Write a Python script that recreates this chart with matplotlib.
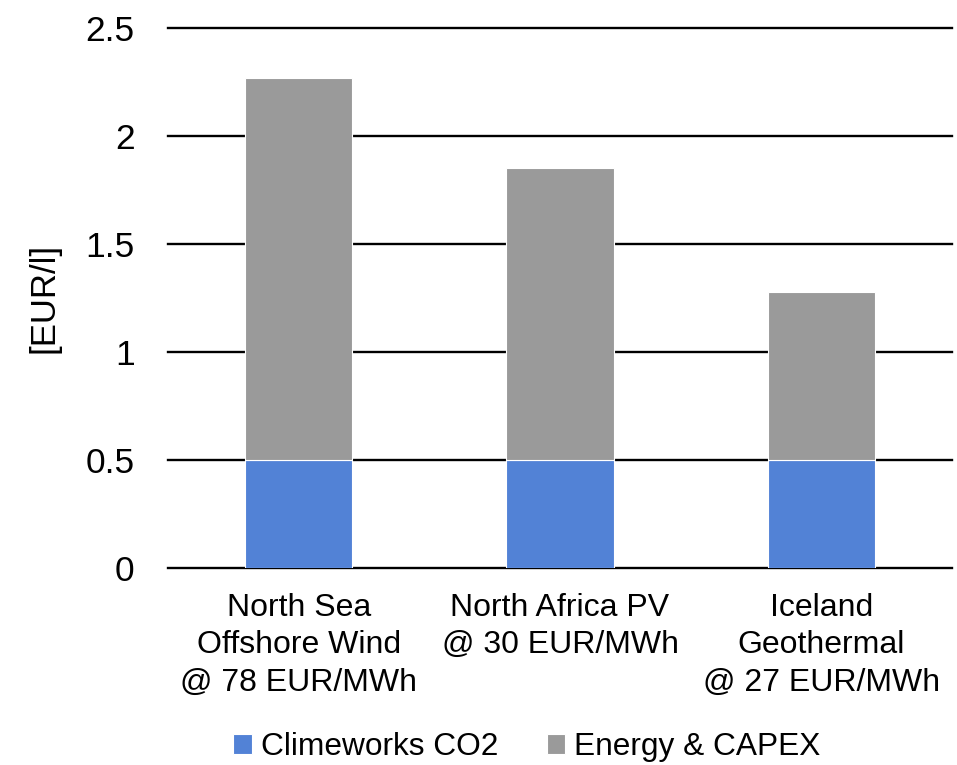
import matplotlib
matplotlib.use("Agg")
import matplotlib.pyplot as plt
import numpy as np

plt.rcParams['font.family'] = ['Liberation Sans', 'DejaVu Sans']

categories = ["North Sea\nOffshore Wind\n@ 78 EUR/MWh",
              "North Africa PV\n@ 30 EUR/MWh",
              "Iceland\nGeothermal\n@ 27 EUR/MWh"]
co2_cost = [0.5, 0.5, 0.5]
energy_capex = [1.77, 1.35, 0.78]
series_names = ["Climeworks CO2", "Energy & CAPEX"]
yticks = [0, 0.5, 1, 1.5, 2, 2.5]

blue = "#5282d6"
grey = "#9a9a9a"

fig = plt.figure(figsize=(9.57, 7.65), dpi=100)
ax = fig.add_axes([168 / 957, 1 - 568 / 765, 784 / 957, 540 / 765])

x = np.arange(len(categories))
width = 0.41
ax.bar(x, co2_cost, width, color=blue, edgecolor="white", linewidth=0.8,
       label=series_names[0], zorder=3)
ax.bar(x, energy_capex, width, bottom=co2_cost, color=grey, edgecolor="white",
       linewidth=0.8, label=series_names[1], zorder=3)

ax.set_xlim(-0.5, len(categories) - 0.5)
ax.set_ylim(0, 2.5)
ax.set_yticks(yticks)
ax.set_yticklabels([f"{v:g}" for v in yticks], fontsize=25.5)
ax.set_xticks(x)
ax.set_xticklabels(categories, fontsize=23, linespacing=1.32)
ax.tick_params(axis="y", length=0, pad=24)
ax.tick_params(axis="x", length=0, pad=18)

for v in yticks:
    ax.axhline(v, color="black", linewidth=1.7, zorder=1, clip_on=False)
for s in ax.spines.values():
    s.set_visible(False)

ax.set_ylabel("[EUR/l]", fontsize=25)
ax.yaxis.set_label_coords(-108 / 784, 0.5)

fig.legend(loc="center", bbox_to_anchor=(527 / 957, 1 - 747 / 765), ncol=2,
           frameon=False, fontsize=22.8, handlelength=0.58, handleheight=0.58,
           handletextpad=0.28, columnspacing=1.55, borderpad=0)

fig.savefig("out.png", dpi=100)
